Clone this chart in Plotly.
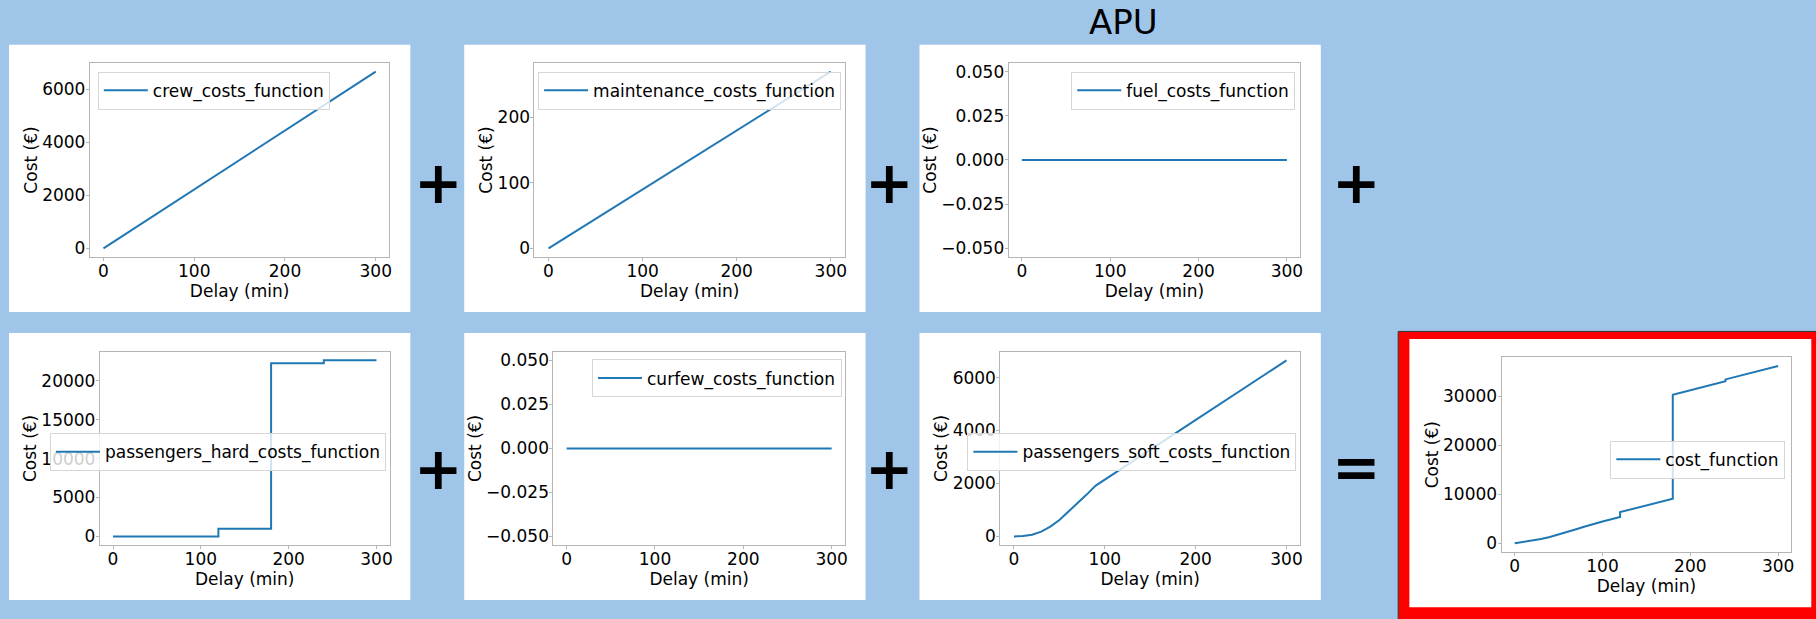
import plotly.graph_objects as go

W, H = 1816, 619

# ---------------- data ----------------
delay_line = [0, 300]
crew_costs = [0, 6660]
maintenance_costs = [0, 270]
fuel_costs = [0, 0]
curfew_costs = [0, 0]

delay_hard = [0, 120, 120, 180, 180, 240, 240, 300]
passengers_hard_costs = [0, 0, 1000, 1000, 22250, 22250, 22630, 22630]

delay_soft = [0, 10, 20, 30, 40, 50, 60, 70, 80, 90, 100, 110, 120, 130, 140, 150,
              160, 170, 180, 190, 200, 210, 220, 230, 240, 250, 260, 270, 280, 290, 300]
passengers_soft_costs = [0, 15, 65, 180, 370, 620, 940, 1250, 1580, 1920, 2150, 2375, 2600,
                         2825, 3050, 3275, 3500, 3725, 3950, 4175, 4400, 4625, 4850, 5075,
                         5300, 5525, 5750, 5975, 6200, 6425, 6650]

delay_total = [0, 10, 20, 30, 40, 50, 60, 70, 80, 90, 100, 110, 120, 120, 130, 140, 150,
               160, 170, 180, 180, 190, 200, 210, 220, 230, 240, 240, 250, 260, 270, 280,
               290, 300]
total_costs = [0, 246, 527, 873, 1294, 1775, 2326, 2867, 3428, 3999, 4460, 4916, 5372, 6372,
               6828, 7284, 7740, 8196, 8652, 9108, 30358, 30814, 31270, 31726, 32182, 32638,
               33094, 33474, 33930, 34386, 34842, 35298, 35754, 36210]

x_ticks = [0, 100, 200, 300]

# ---------------- layout helpers ----------------
FONT = "DejaVu Sans"
FS = 17
LINE_C = "#1f77b4"
SPINE = "#b5b5b5"


def px_x(v):
    return v / W


def px_y(v):
    return 1 - v / H


panels = [
    # name, x, y, plot-area px (x0, x1, y0, y1), y-range, y-ticks, tickformat, legend (left, top)
    ("crew_costs_function", delay_line, crew_costs, (90, 390, 62, 257),
     [-333, 6993], [0, 2000, 4000, 6000], "d", (98, 71)),
    ("maintenance_costs_function", delay_line, maintenance_costs, (535.3, 846.3, 62, 257),
     [-13.5, 283.5], [0, 100, 200], "d", (539, 71)),
    ("fuel_costs_function", delay_line, fuel_costs, (1010.3, 1302.3, 62, 257),
     [-0.055, 0.055], [-0.05, -0.025, 0, 0.025, 0.05], ".3f", (1073, 71)),
    ("passengers_hard_costs_function", delay_hard, passengers_hard_costs, (100, 390.3, 351.7, 546),
     [-1131, 23761], [0, 5000, 10000, 15000, 20000], "d", (50, 433.5)),
    ("curfew_costs_function", delay_line, curfew_costs, (554.3, 846.3, 351.7, 546),
     [-0.055, 0.055], [-0.05, -0.025, 0, 0.025, 0.05], ".3f", (593, 359.5)),
    ("passengers_soft_costs_function", delay_soft, passengers_soft_costs, (1002, 1302.3, 351.7, 546),
     [-332, 6982], [0, 2000, 4000, 6000], "d", (969, 433.5)),
    ("cost_function", delay_total, total_costs, (1504, 1794.3, 357.3, 553),
     [-1810, 38020], [0, 10000, 20000, 30000], "d", (1613, 441)),
]

fig = go.Figure()
layout = {}

for i, (name, xs, ys, (x0, x1, y0, y1), yr, yt, yfmt, (lx, ly)) in enumerate(panels, start=1):
    sfx = "" if i == 1 else str(i)
    leg = "legend" if i == 1 else f"legend{i}"
    fig.add_trace(go.Scatter(
        x=xs, y=ys, mode="lines", name=name,
        line=dict(color=LINE_C, width=2),
        xaxis=f"x{sfx}", yaxis=f"y{sfx}", legend=leg, showlegend=True,
    ))
    common = dict(showline=True, mirror=True, linecolor=SPINE, linewidth=1,
                  showgrid=False, zeroline=False, ticks="outside", ticklen=3,
                  tickcolor=SPINE, tickfont=dict(family=FONT, size=FS, color="black"))
    layout[f"xaxis{sfx}"] = dict(
        domain=[px_x(x0), px_x(x1)], anchor=f"y{sfx}", range=[-15, 315],
        tickvals=x_ticks, tickformat="d", ticklabelstandoff=-5,
        title=dict(text="Delay (min)", font=dict(family=FONT, size=FS, color="black"), standoff=2),
        **common)
    layout[f"yaxis{sfx}"] = dict(
        domain=[px_y(y1), px_y(y0)], anchor=f"x{sfx}", range=yr,
        tickvals=yt, tickformat=yfmt, ticklabelstandoff=-3,
        title=dict(text="Cost (€)", font=dict(family=FONT, size=FS, color="black"), standoff=0),
        **common)
    layout[leg] = dict(
        x=px_x(lx), y=px_y(ly), xanchor="left", yanchor="top",
        bgcolor="rgba(255,255,255,0.8)", bordercolor="#d6d6d6", borderwidth=1,
        font=dict(family=FONT, size=FS, color="black"), itemwidth=44,
    )

shapes = []
# white panel backgrounds
for (bx0, bx1, by0, by1) in [(9, 411, 44, 312), (465, 867, 44, 312), (921, 1323, 44, 312),
                             (9, 411, 333, 601), (465, 867, 333, 601), (921, 1323, 333, 601)]:
    shapes.append(dict(type="rect", xref="paper", yref="paper", layer="below",
                       x0=px_x(bx0), x1=px_x(bx1), y0=px_y(by1), y1=px_y(by0),
                       fillcolor="white", line=dict(width=0)))
# highlighted result panel
shapes.append(dict(type="rect", xref="paper", yref="paper", layer="below",
                   x0=px_x(1400.5), x1=px_x(1830), y0=px_y(640), y1=px_y(331.5),
                   fillcolor="#ff0000", line=dict(color="#333333", width=1)))
shapes.append(dict(type="rect", xref="paper", yref="paper", layer="below",
                   x0=px_x(1411.7), x1=px_x(1814.3), y0=px_y(608.3), y1=px_y(339),
                   fillcolor="white", line=dict(width=0)))

annotations = [
    dict(text="APU", x=px_x(1125), y=px_y(21), xref="paper", yref="paper",
         xanchor="center", yanchor="middle", showarrow=False,
         font=dict(family=FONT, size=34, color="black")),
]
for (cx, cy, sym) in [(439, 183, "+"), (890.5, 183, "+"), (1359, 183, "+"),
                      (439, 469.5, "+"), (890.5, 469.5, "+"), (1359, 468, "=")]:
    annotations.append(dict(text=f"<b>{sym}</b>", x=px_x(cx), y=px_y(cy), xref="paper", yref="paper",
                            xanchor="center", yanchor="middle", showarrow=False,
                            font=dict(family="DejaVu Sans", size=58, color="black")))

fig.update_layout(
    width=W, height=H, margin=dict(l=0, r=0, t=0, b=0),
    paper_bgcolor="#9fc5e8", plot_bgcolor="white",
    shapes=shapes, annotations=annotations, **layout,
)

fig.write_html(
    "out.html",
    config={"displayModeBar": False},
    post_script="document.body.style.margin='0';document.body.style.overflow='hidden';",
)
